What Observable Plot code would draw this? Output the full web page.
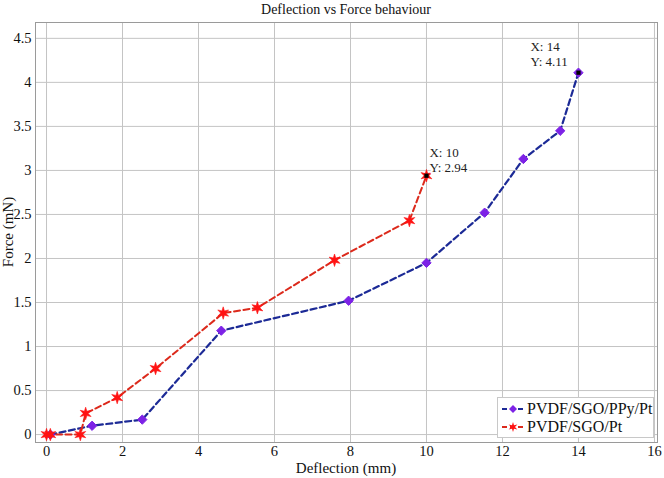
<!DOCTYPE html>
<html><head><meta charset="utf-8">
<script src="https://cdn.jsdelivr.net/npm/d3@7"></script>
<script src="https://cdn.jsdelivr.net/npm/@observablehq/plot@0.6"></script>
<style>
body{margin:0;background:#fff;font-family:"Liberation Serif",Tinos,"Times New Roman","DejaVu Serif",serif;}
#wrap{position:relative;width:664px;height:478px;overflow:hidden;}
#title{position:absolute;left:35px;width:622px;top:2px;text-align:center;font-size:14px;color:#111;}
#xlab{position:absolute;left:35px;width:622px;top:461px;text-align:center;font-size:15px;line-height:15px;color:#111;}
#ylab{position:absolute;left:8px;top:232px;transform:translate(-50%,-50%) rotate(-90deg);white-space:nowrap;font-size:15px;line-height:15px;color:#111;}
#legend{position:absolute;left:497px;top:397px;width:155px;height:39px;border:1px solid #c8c8c8;background:#fff;font-size:16px;color:#111;}
#legend .row{position:absolute;left:3px;height:18px;display:flex;align-items:center;}
#legend svg{margin-right:2px;}
</style></head>
<body><div id="wrap"></div>
<script>
// ---- data ----
const titleText = "Deflection vs Force behaviour";
const xLabel = "Deflection (mm)";
const yLabel = "Force (mN)";
const seriesNames = ["PVDF/SGO/PPy/Pt", "PVDF/SGO/Pt"];
const blueX = [0.1, 1.2, 2.52, 4.6, 7.95, 10, 11.53, 12.55, 13.52, 14];
const blueY = [0, 0.1, 0.17, 1.18, 1.52, 1.95, 2.52, 3.13, 3.45, 4.11];
const redX = [0, 0.1, 0.89, 1.03, 1.86, 2.87, 4.65, 5.55, 7.58, 9.55, 10];
const redY = [0, 0, 0, 0.24, 0.42, 0.75, 1.38, 1.44, 1.98, 2.43, 2.94];
const tipX = [10, 14];
const tipY = [2.94, 4.11];
const xTicks = [0, 2, 4, 6, 8, 10, 12, 14, 16];
const yTicks = [0, 0.5, 1, 1.5, 2, 2.5, 3, 3.5, 4, 4.5];

const blueData = blueX.map((x, i) => ({x, y: blueY[i]}));
const redData = redX.map((x, i) => ({x, y: redY[i]}));
const tips = tipX.map((x, i) => ({x, y: tipY[i], label: `X: ${x}\nY: ${tipY[i]}`}));

const blueLine = "#1c2a96", blueMark = "#7d22e6";
const redLine = "#dc2a1c", redMark = "#ff1212";
const serif = '"Liberation Serif",Tinos,"Times New Roman","DejaVu Serif",serif';

const star6 = {
  draw(ctx, size) {
    const r = Math.sqrt(size / Math.PI);
    const ro = r * 1.25, ri = r * 0.5;
    for (let k = 0; k < 12; k++) {
      const a = -Math.PI / 2 + k * Math.PI / 6;
      const rr = k % 2 ? ri : ro;
      const px = rr * Math.cos(a), py = rr * Math.sin(a);
      k ? ctx.lineTo(px, py) : ctx.moveTo(px, py);
    }
    ctx.closePath();
  }
};

const chart = Plot.plot({
  width: 664, height: 478,
  marginLeft: 35, marginRight: 7, marginTop: 22, marginBottom: 36,
  style: {fontFamily: serif, fontSize: "14px", color: "#111", background: "#fff"},
  x: {domain: [-0.29, 16.08]},
  y: {domain: [-0.09, 4.68]},
  marks: [
    Plot.gridX(xTicks, {stroke: "#c4c4c4", strokeOpacity: 1, strokeWidth: 1}),
    Plot.gridY(yTicks, {stroke: "#c4c4c4", strokeOpacity: 1, strokeWidth: 1}),
    Plot.frame({stroke: "#9a9a9a"}),
    Plot.axisX({ticks: xTicks, tickSize: 0, tickPadding: 3, label: null, tickFormat: d => String(d), fontSize: 14.5, fontFamily: serif}),
    Plot.axisY({ticks: yTicks, tickSize: 0, tickPadding: 4, label: null, tickFormat: d => String(d), fontSize: 14.5, fontFamily: serif}),
    Plot.line(blueData, {x: "x", y: "y", stroke: blueLine, strokeWidth: 2.2, strokeDasharray: "6,3.5"}),
    Plot.line(redData, {x: "x", y: "y", stroke: redLine, strokeWidth: 2, strokeDasharray: "6,3.5"}),
    Plot.dot(blueData, {x: "x", y: "y", symbol: "diamond2", r: 4.2, fill: blueMark, stroke: blueMark, strokeWidth: 1}),
    Plot.dot(redData, {x: "x", y: "y", symbol: star6, r: 5, fill: redMark, stroke: redMark, strokeWidth: 0.6}),
    Plot.dot(tips, {x: "x", y: "y", symbol: "square", r: 2.4, fill: "#000"}),
    Plot.text(tips.filter(d => d.x === 10), {x: "x", y: "y", text: "label", textAnchor: "start", dx: 3, dy: -16, lineHeight: 1.2, fontSize: 13, fontFamily: serif, fill: "#222", stroke: "#fff", strokeWidth: 4, paintOrder: "stroke"}),
    Plot.text(tips.filter(d => d.x === 14), {x: "x", y: "y", text: "label", textAnchor: "start", dx: -48, dy: -19, lineHeight: 1.2, fontSize: 13, fontFamily: serif, fill: "#222", stroke: "#fff", strokeWidth: 4, paintOrder: "stroke"})
  ]
});

const wrap = document.getElementById("wrap");
wrap.appendChild(chart);
const t = document.createElement("div"); t.id = "title"; t.textContent = titleText; wrap.appendChild(t);
const xl = document.createElement("div"); xl.id = "xlab"; xl.textContent = xLabel; wrap.appendChild(xl);
const yl = document.createElement("div"); yl.id = "ylab"; yl.textContent = yLabel; wrap.appendChild(yl);

const lg = document.createElement("div"); lg.id = "legend";
const legendItems = [
  {name: seriesNames[0], line: blueLine, mark: blueMark, shape: "diamond"},
  {name: seriesNames[1], line: redLine, mark: redMark, shape: "star"}
];
legendItems.forEach((it, i) => {
  const row = document.createElement("div"); row.className = "row"; row.style.top = (2 + i * 18) + "px";
  const s = d3.create("svg").attr("width", 24).attr("height", 14);
  s.append("line").attr("x1", 1).attr("x2", 23).attr("y1", 7).attr("y2", 7).attr("stroke", it.line).attr("stroke-width", 2).attr("stroke-dasharray", "5,3");
  if (it.shape === "diamond") s.append("path").attr("d", "M12,3L16,7L12,11L8,7Z").attr("fill", it.mark);
  else {
    const p = d3.path(); star6.draw(p, Math.PI * 16);
    s.append("path").attr("d", p.toString()).attr("transform", "translate(12,7)").attr("fill", it.mark);
  }
  row.appendChild(s.node());
  const sp = document.createElement("span"); sp.textContent = it.name; row.appendChild(sp);
  lg.appendChild(row);
});
wrap.appendChild(lg);
</script></body></html>
